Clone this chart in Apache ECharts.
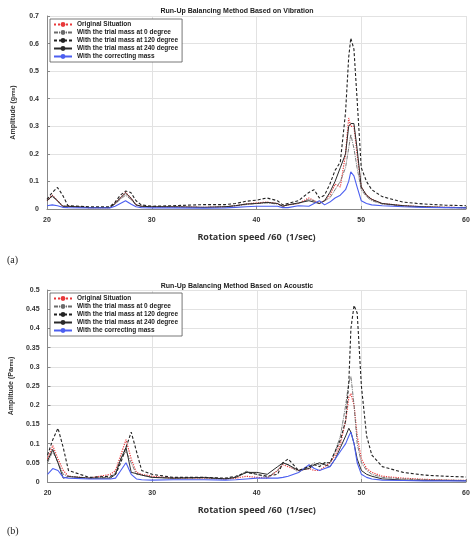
<!doctype html>
<html>
<head>
<meta charset="UTF-8">
<title>Run-Up Balancing</title>
<script src="https://cdn.jsdelivr.net/npm/echarts@6/dist/echarts.min.js"></script>
<style>
  html, body { margin: 0; padding: 0; background: #fff; }
  #chart { width: 474px; height: 541px; }
</style>
</head>
<body>
<div id="chart"></div>
<script>
// rotation speed samples (1/sec)
var speed = [20,20.5,21,21.5,22,24,26,26.5,27,27.5,28,28.5,29,30,32,35,37,38,39,40,41,42,42.5,43,44,45,45.5,46,46.5,47,47.5,48,48.5,48.8,49,49.3,49.6,50,50.5,51,52,54,56,58,60];

var names = ['Original Situation','With the trial mass at 0 degree','With the trial mass at 120 degree','With the trial mass at 240 degree','With the correcting mass'];

// (a) vibration, g rms
var vibOrig = [0.03,0.05,0.03,0.01,0.01,0.005,0.005,0.02,0.04,0.06,0.04,0.015,0.01,0.008,0.008,0.006,0.008,0.012,0.018,0.022,0.025,0.02,0.01,0.015,0.02,0.04,0.03,0.02,0.03,0.05,0.09,0.08,0.2,0.33,0.3,0.3,0.2,0.08,0.05,0.035,0.02,0.012,0.008,0.006,0.005];
var vib0   = [0.03,0.045,0.03,0.01,0.01,0.005,0.005,0.018,0.035,0.05,0.035,0.015,0.01,0.008,0.008,0.006,0.008,0.012,0.016,0.02,0.022,0.018,0.01,0.015,0.02,0.035,0.03,0.02,0.03,0.04,0.07,0.1,0.15,0.22,0.27,0.22,0.15,0.07,0.045,0.03,0.018,0.01,0.007,0.005,0.004];
var vib120 = [0.035,0.06,0.078,0.05,0.012,0.008,0.008,0.025,0.05,0.065,0.06,0.03,0.015,0.01,0.012,0.016,0.016,0.02,0.028,0.032,0.04,0.03,0.015,0.02,0.03,0.06,0.07,0.04,0.05,0.09,0.14,0.17,0.35,0.55,0.62,0.58,0.4,0.15,0.1,0.07,0.045,0.025,0.018,0.014,0.012];
var vib240 = [0.03,0.048,0.03,0.01,0.01,0.005,0.005,0.02,0.04,0.058,0.04,0.015,0.01,0.008,0.008,0.006,0.008,0.012,0.018,0.02,0.024,0.02,0.01,0.015,0.022,0.03,0.025,0.02,0.03,0.06,0.1,0.15,0.2,0.3,0.31,0.31,0.22,0.08,0.05,0.035,0.02,0.012,0.008,0.006,0.005];
var vibCor = [0.012,0.015,0.012,0.006,0.005,0.004,0.004,0.01,0.02,0.03,0.018,0.008,0.005,0.004,0.004,0.003,0.004,0.006,0.008,0.01,0.01,0.01,0.005,0.005,0.012,0.01,0.02,0.03,0.015,0.025,0.04,0.05,0.07,0.1,0.135,0.12,0.08,0.03,0.02,0.015,0.012,0.008,0.006,0.005,0.004];

// (b) acoustic, Pa rms
var acoOrig = [0.06,0.095,0.06,0.03,0.015,0.01,0.02,0.03,0.07,0.11,0.06,0.025,0.02,0.015,0.01,0.01,0.008,0.01,0.015,0.012,0.01,0.03,0.045,0.04,0.03,0.035,0.03,0.03,0.04,0.05,0.07,0.1,0.16,0.22,0.23,0.2,0.12,0.06,0.035,0.025,0.015,0.01,0.007,0.005,0.004];
var aco0   = [0.05,0.08,0.05,0.02,0.015,0.01,0.012,0.025,0.06,0.08,0.05,0.02,0.018,0.012,0.01,0.01,0.008,0.012,0.028,0.02,0.012,0.03,0.05,0.045,0.025,0.04,0.05,0.045,0.05,0.05,0.08,0.12,0.2,0.26,0.275,0.2,0.1,0.05,0.03,0.02,0.012,0.008,0.006,0.005,0.004];
var aco120 = [0.07,0.11,0.14,0.09,0.03,0.012,0.015,0.02,0.05,0.09,0.13,0.08,0.03,0.02,0.012,0.012,0.01,0.015,0.025,0.02,0.015,0.02,0.05,0.06,0.03,0.04,0.045,0.04,0.05,0.05,0.08,0.11,0.16,0.26,0.4,0.46,0.44,0.25,0.12,0.07,0.04,0.025,0.018,0.015,0.013];
var aco240 = [0.055,0.085,0.05,0.01,0.014,0.01,0.01,0.02,0.06,0.09,0.025,0.022,0.018,0.012,0.01,0.012,0.008,0.012,0.025,0.025,0.02,0.04,0.05,0.045,0.03,0.035,0.045,0.05,0.045,0.04,0.06,0.09,0.12,0.14,0.13,0.1,0.06,0.03,0.02,0.015,0.008,0.005,0.004,0.004,0.003];
var acoCor = [0.02,0.035,0.03,0.012,0.01,0.008,0.008,0.01,0.03,0.05,0.02,0.008,0.006,0.005,0.006,0.006,0.005,0.006,0.008,0.01,0.01,0.01,0.012,0.015,0.025,0.045,0.035,0.03,0.035,0.04,0.06,0.08,0.1,0.12,0.13,0.1,0.05,0.02,0.012,0.008,0.005,0.004,0.003,0.003,0.003];

var vibSets = [vibOrig, vib0, vib120, vib240, vibCor];
var acoSets = [acoOrig, aco0, aco120, aco240, acoCor];

var styles = [
  { color: '#e8383a', type: 'dotted', width: 1.2 },
  { color: '#6b6b6b', type: [4, 1, 1, 1], width: 0.9 },
  { color: '#222', type: [3, 2], width: 1.1 },
  { color: '#2a2a2a', type: 'solid', width: 1 },
  { color: '#4c5ff0', type: 'solid', width: 1.1 }
];

function pairs(ys) {
  return speed.map(function (x, i) { return [x, ys[i]]; });
}

var series = [];
[vibSets, acoSets].forEach(function (sets, g) {
  sets.forEach(function (ys, k) {
    series.push({
      name: names[k], type: 'line', xAxisIndex: g, yAxisIndex: g,
      data: pairs(ys), symbol: 'none',
      itemStyle: { color: styles[k].color },
      lineStyle: { color: styles[k].color, type: styles[k].type, width: styles[k].width },
      z: k === 2 ? 3 : 2
    });
  });
});

var tick = { fontSize: 7, fontWeight: 'bold', color: '#333', fontFamily: 'Liberation Sans' };
function xAxis(g) {
  return {
    type: 'value', gridIndex: g, min: 20, max: 60, interval: 10,
    name: 'Rotation speed /60  (1/sec)', nameLocation: 'middle', nameGap: 24,
    nameTextStyle: { fontSize: 9, fontWeight: 'bold', color: '#333', fontFamily: 'Open Sans' },
    axisLine: { onZero: false, lineStyle: { color: '#888' } },
    axisTick: { inside: true, length: 3 }, axisLabel: tick,
    splitLine: { lineStyle: { color: '#e2e2e2' } }
  };
}
function yAxis(g, max, itv, unit) {
  return {
    type: 'value', gridIndex: g, min: 0, max: max, interval: itv,
    name: '{n|Amplitude (' + unit + '}{s|rms}{n|)}', nameLocation: 'middle', nameGap: 30,
    nameTextStyle: { rich: { n: { fontSize: 7, fontWeight: 'bold', color: '#333' }, s: { fontSize: 5, fontWeight: 'bold', color: '#333' } } },
    axisLine: { show: true, lineStyle: { color: '#888' } },
    axisTick: { inside: true, length: 3 }, axisLabel: tick,
    splitLine: { lineStyle: { color: '#e2e2e2' } }
  };
}
function legend(top) {
  return {
    data: names, orient: 'vertical', left: 50, top: top, itemGap: 1,
    itemWidth: 18, itemHeight: 6, padding: [2, 4, 2, 3],
    borderColor: '#555', borderWidth: 0.8, backgroundColor: '#fff',
    textStyle: { fontSize: 6.5, fontWeight: 'bold', color: '#222', fontFamily: 'Liberation Sans' }
  };
}

var chart = echarts.init(document.getElementById('chart'));
chart.setOption({
  animation: false,
  title: [
    { text: 'Run-Up Balancing Method Based on Vibration', left: 'center', top: 3, textStyle: { fontSize: 7, fontWeight: 'bold', color: '#222' } },
    { text: 'Run-Up Balancing Method Based on Acoustic', left: 'center', top: 278, textStyle: { fontSize: 7, fontWeight: 'bold', color: '#222' } },
    { text: '(a)', left: 2, top: 250, textStyle: { fontSize: 10, fontWeight: 'normal', color: '#222', fontFamily: 'Liberation Serif' } },
    { text: '(b)', left: 2, top: 521, textStyle: { fontSize: 10, fontWeight: 'normal', color: '#222', fontFamily: 'Liberation Serif' } }
  ],
  legend: [legend(19), legend(293)],
  grid: [
    { left: 47, right: 8, top: 16, height: 193 },
    { left: 47, right: 8, top: 290, height: 192 }
  ],
  xAxis: [xAxis(0), xAxis(1)],
  yAxis: [yAxis(0, 0.7, 0.1, 'g'), yAxis(1, 0.5, 0.05, 'Pa')],
  series: series
});
</script>
</body>
</html>
